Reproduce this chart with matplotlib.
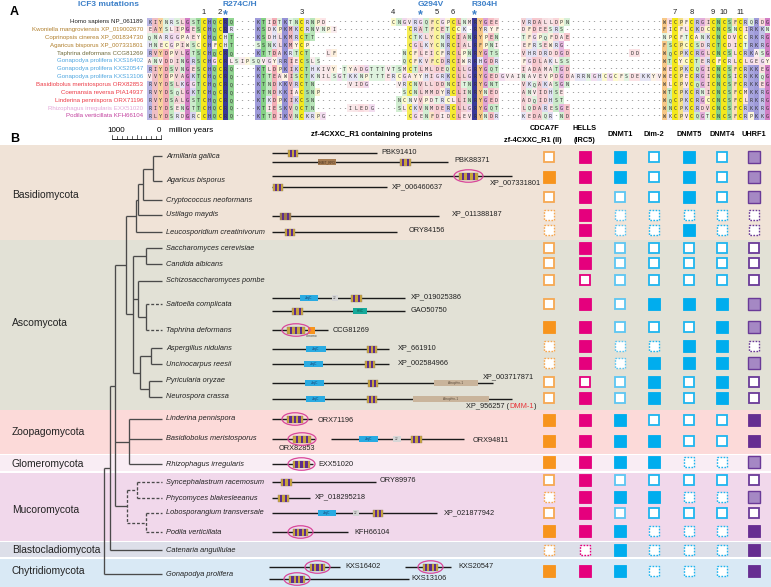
import matplotlib

matplotlib.use("Agg")
import matplotlib.pyplot as plt  # noqa: E402
from collections import Counter  # noqa: E402
from matplotlib.colors import to_rgb  # noqa: E402
from matplotlib.patches import Ellipse, Rectangle  # noqa: E402

plt.rcParams["font.family"] = ["Liberation Sans", "DejaVu Sans"]

W, H = 771, 587
N_COLS = 115

# ---------------- panel A data ----------------
ALN_LABELS = [
    "Homo sapiens NP_061189",
    "Kwoniella mangroviensis XP_019002670",
    "Coprinopsis cinerea XP_001834730",
    "Agaricus bisporus XP_007331801",
    "Taphrina deformans CCG81269",
    "Gonapodya prolifera KXS16402",
    "Gonapodya prolifera KXS20547",
    "Gonapodya prolifera KXS13106",
    "Basidiobolus meristosporus ORX82853",
    "Coemansia reversa PIA14937",
    "Linderina pennispora ORX71196",
    "Rhizophagus irregularis EXX51020",
    "Podila verticillata KFH66104",
]
ALN_LABEL_COLORS = [
    "#222222", "#b07f2c", "#b07f2c", "#b07f2c", "#6f6b3c",
    "#4ea6e0", "#4ea6e0", "#4ea6e0", "#ec3a45", "#ec3a45",
    "#ec3a45", "#e3a6d8", "#c2409e",
]
ALN_SEQS = [
    "KIYNRSLGSTCHQCRQ" + "----" + "KTIDTKTNCRNPD" + "-" * 12 + "CNGVRGQFCGPCLNMRYGEE"
    + "----" + "VRDALLDPN" + "-" * 17 + "WECPFCRGICNCSFCRQRDG",
    "EAYSLIPGESCHQCRR" + "----" + "KSDKPKMKCRNVNPI" + "-" * 13 + "CRATFCETCCK-RYRYF"
    + "----" + "DFDEESRS" + "-" * 18 + "FICFLCKDCCNCSNCIRKKN",
    "QNARGGPAEYCHQCHT" + "----" + "KSDHLKMRCTT" + "-" * 17 + "CTKLYCNRCIANRYPEN"
    + "----" + "TFGPQFDAE" + "-" * 17 + "NPCFTCANKCNCDVCCRKRG",
    "HNECGPIWSCCHFCHT" + "----" + "SSNKLKMYCP" + "-" * 18 + "CGLKYCNRCIALRFPNI"
    + "----" + "EFRSEWRG" + "-" * 18 + "FSCPCCSDRCTCDICTRKRG",
    "RVYDPVLGTSCHQCRQ" + "----" + "KTTDAKRTCT" + "---" + "LF" + "-" * 12
    + "NCFLEICFRCLPNRYGTS" + "----" + "VHRDRDDGD" + "-" * 11 + "DD" + "----"
    + "WQCPKCRGLCNCSLCRKASG",
    "ANVDDINGRSCHGCRL" + "SIPS" + "QVGYRRIECSLS" + "-" * 15 + "QCFKVFCDRCIWRRHGDR"
    + "----" + "FGDLAKLSS" + "-" * 17 + "WTCYCCTERCFCRLCLGEGY",
    "RIYDSVNGESCHQCRQ" + "----" + "KTLDPKIKCTHKIVY-TYADGTT" + "TVTSMCTLMLDEQCLLGRYGQT"
    + "----" + "IADAMATGD" + "-" * 17 + "WECPKCQGICNCSFCRKKEG",
    "VVYDPVAGKTCHQCRQ" + "----" + "KTTEAWISCTKNILSGTKKNPTT" + "TERCGAYYHIGRKCLLGR"
    + "YGEDGVAINAVEVPDGDARRNGHCGCFSDEKKYV" + "WECPECRGICNCSICRKKQG",
    "RVYDSLKGGTCHQCRQ" + "----" + "KTNDKKVRCTN" + "-" * 6 + "VIDG" + "-" * 5
    + "VRCNVLLDDNCITNRYGNT" + "----" + "VKQAKASGN" + "-" * 17 + "WLCPVCQGICNCSFCRKKEG",
    "RVYDSQLGKTCHQCRQ" + "----" + "KTNDKKIACSNP" + "-" * 15 + "SCNLMMDYRCLINRYNED"
    + "----" + "ANVIDHSE" + "-" * 18 + "WTCPKCRNICNCSFCMKKRG",
    "RVYDSALGSTCHQCRQ" + "----" + "KTKDPKIKCSN" + "-" * 15 + "NCNVVPDTRCLLINRYGED"
    + "----" + "ADQIDHST" + "-" * 18 + "WQCPKCRGCCNCSFCLRKRG",
    "RIYDSENGTTCHQCRQ" + "----" + "KTIESKVQCTN" + "-" * 6 + "ILEDG" + "-" * 4
    + "SLCKVNMDERCLLGRYGQT" + "----" + "LQDARESGE" + "-" * 17 + "WNCPKCRDVCNCSFCRKKRG",
    "RLYDSRDGRCCHQCRQ" + "----" + "KTTDIKVNCKRPG" + "-" * 15 + "CGENFDIDCLEVRYNDR"
    + "----" + "KEDAQR-ND" + "-" * 17 + "WKCPVCQGTCNCSFCRPKKG",
]
SITE_COLS = [10, 13, 28, 45, 53, 56, 97, 100, 104, 106, 109]
SITE_NAMES = ["1", "2", "3", "4", "5", "6", "7", "8", "9", "10", "11"]
MUT_COLS = [14, 50, 60]
MUT_NAMES = ["R274C/H", "G294V", "R304H"]

# ---------------- panel B data ----------------
SPECIES = [
    "Armillaria gallica", "Agaricus bisporus", "Cryptococcus neoformans",
    "Ustilago maydis", "Leucosporidium creatinivorum",
    "Saccharomyces cerevisiae", "Candida albicans", "Schizosaccharomyces pombe",
    "Saitoella complicata", "Taphrina deformans", "Aspergillus nidulans",
    "Uncinocarpus reesii", "Pyricularia oryzae", "Neurospora crassa",
    "Linderina pennispora", "Basidiobolus meristosporus", "Rhizophagus irregularis",
    "Syncephalastrum racemosum", "Phycomyces blakesleeanus",
    "Lobosporangium transversale", "Podila verticillata", "Catenaria anguillulae",
    "Gonapodya prolifera",
]
SPECIES_Y = [156, 181, 200, 215, 232, 248, 264, 281, 304, 330, 348, 364, 381,
             397, 419, 439, 464, 482, 498, 513, 532, 550, 574]
SQUARE_Y = [157, 177, 197, 215, 230, 248, 263, 280, 304, 327, 346, 363, 382,
            398, 420, 441, 462, 480, 497, 513, 531, 550, 571]

GENES = ["CDCA7F", "HELLS", "DNMT1", "Dim-2", "DNMT5", "DNMT4", "UHRF1"]
# F = present, L = present (pale), O = absent, D = absent (uncertain)
STATUS = [
    "OFFOFOL", "FFFOFOL", "OFOOFOL", "DFDDDDD", "DFDDFDD",
    "OFOOOOO", "OFOOOOO", "OOOOOOO", "OFOFFFL", "FFOOOFL",
    "DFDDFFD", "DFDFFFL", "OOOFOFO", "OFOFOFO", "FFFOOOF",
    "FFFFOOF", "FFFFDDL", "OFOOOOO", "DFFFDDL", "OFOOOOO",
    "FFFDDDF", "DDFDDDF", "FFFDDDF",
]

CLADES = ["Basidiomycota", "Ascomycota", "Zoopagomycota", "Glomeromycota",
          "Mucoromycota", "Blastocladiomycota", "Chytridiomycota"]
CLADE_SPAN = [(145, 240), (240, 409.5), (410, 453.5), (455, 471), (472.5, 540.5),
              (542, 557), (558.5, 587)]
CLADE_COLORS = ["#f0e3d7", "#e2e1d6", "#fcdad9", "#f9edf4", "#f1d8eb",
                "#dddfe9", "#d9e9f5"]

# proteins: accession, y, line start/end, domains, circled zf, label spot
PROTEINS = [
    ("PBK91410", 153, 272, 377, [("zf", 288, 298)], False, (381, 152, "left")),
    ("PBK88371", 162, 272, 448, [("dnmt", 318, 336), ("zf", 400, 411)], False, (454, 161, "left")),
    ("XP_007331801", 176, 272, 512, [("zf", 459, 478)], True, (490, 183, "left")),
    ("XP_006460637", 187, 272, 387, [("zf", 273, 283)], False, (392, 187, "left")),
    ("XP_011388187", 216, 272, 439, [("zfb", 280, 291)], False, (452, 214, "left")),
    ("ORY84156", 232, 272, 397, [("zf", 285, 295)], False, (409, 230, "left")),
    ("XP_019025386", 298, 272, 405, [("jmjc", 300, 318), ("g22", 332, 338), ("zf", 351, 362)], False, (411, 297, "left")),
    ("GAO50750", 311, 272, 405, [("zf", 292, 303), ("hnc", 353, 367)], False, (411, 311, "left")),
    ("CCG81269", 330, 272, 328, [("zf", 287, 305), ("chromo", 308, 315)], True, (333, 330, "left")),
    ("XP_661910", 349, 272, 389, [("jmjc", 306, 326), ("zf", 367, 377)], False, (398, 348, "left")),
    ("XP_002584966", 364, 272, 389, [("jmjc", 304, 323), ("zf", 365, 375)], False, (398, 363, "left")),
    ("XP_003717871", 383, 272, 493, [("jmjc", 305, 324), ("zf", 368, 378), ("atro", 434, 478)], False, (483, 377, "left")),
    ("XP_956257", 399, 272, 512, [("jmjc", 306, 325), ("zf", 367, 377), ("atro", 413, 489)], False, (466, 407, "left")),
    ("ORX71196", 419, 272, 312, [("zf", 287, 303)], True, (318, 420, "left")),
    ("ORX82853", 439, 272, 315, [("zf", 293, 311)], True, (297, 449, "center")),
    ("ORX94811", 439, 331, 464, [("jmjc", 359, 378), ("g22", 393, 401), ("zf", 411, 422)], False, (473, 440, "left")),
    ("EXX51020", 464, 272, 313, [("zf", 293, 310)], True, (318, 464, "left")),
    ("ORY89976", 482, 272, 376, [("zf", 281, 292)], False, (380, 481, "left")),
    ("XP_018295218", 498, 272, 310, [("zf", 278, 289)], False, (315, 497, "left")),
    ("XP_021877942", 513, 272, 437, [("jmjc", 318, 336), ("g22", 353, 359), ("zf", 373, 383)], False, (444, 513, "left")),
    ("KFH66104", 532, 272, 348, [("zf", 293, 308)], True, (354, 532, "left")),
    ("KXS16402", 567, 269, 340, [("zf", 310, 325)], True, (345, 567, "left")),
    ("KXS20547", 567, 405, 451, [("zf", 423, 438)], True, (458, 567, "left")),
    ("KXS13106", 579, 269, 409, [("zf", 289, 305)], True, (411, 579, "left")),
]


def node(x, *kids, dashed=False):
    return {"x": x, "kids": list(kids), "dashed": dashed}


TREE = node(
    104,
    node(
        110,
        node(
            115,
            node(
                126,
                node(136,
                     node(138,
                          node(143, node(153, "Armillaria gallica", "Agaricus bisporus"),
                               "Cryptococcus neoformans"),
                          "Ustilago maydis"),
                     "Leucosporidium creatinivorum"),
                node(133,
                     node(146, "Saccharomyces cerevisiae", "Candida albicans"),
                     node(138, "Schizosaccharomyces pombe",
                          node(146, "Saitoella complicata", "Taphrina deformans")),
                     node(140, node(151, "Aspergillus nidulans", "Uncinocarpus reesii"),
                          node(149, "Pyricularia oryzae", "Neurospora crassa"))),
            ),
            node(129, "Linderina pennispora", "Basidiobolus meristosporus",
                 "Rhizophagus irregularis"),
            node(127,
                 node(137, "Syncephalastrum racemosum", "Phycomyces blakesleeanus", dashed=True),
                 node(146, "Lobosporangium transversale", "Podila verticillata", dashed=True),
                 dashed=True),
        ),
        "Catenaria anguillulae",
    ),
    "Gonapodya prolifera",
)
DASHED_TIPS = {"Saitoella complicata", "Taphrina deformans"}

# ---------------- styling ----------------
RES_GROUP = {}
for letters, grp in [("C", "C"), ("G", "G"), ("RK", "RK"), ("H", "H"), ("QNST", "pol"),
                     ("DE", "neg"), ("P", "P"), ("FWY", "aro"), ("AILMV", "hyd")]:
    for ch in letters:
        RES_GROUP[ch] = grp
GROUP_COLOR = {"C": "#f4e81c", "G": "#c862b8", "RK": "#8a86d2", "H": "#8384d3",
               "pol": "#79cc79", "neg": "#ef8592", "P": "#f1d65e", "aro": "#f6c27c",
               "hyd": "#eaa7b0"}
GENE_COLOR = ["#f7941d", "#e5007d", "#00adee", "#00adee", "#00adee", "#00adee", "#662d91"]
GENE_EDGE = ["#f6a852", "#e5007d", "#5cc6f2", "#1fb5ef", "#1fb5ef", "#1fb5ef", "#6a3a98"]
UHRF1_PALE = "#a588c4"
GOLD = "#c9a43a"
PURPLE = "#5c2d8c"


def tint(color, t):
    r, g, b = to_rgb(color)
    return (1 - (1 - r) * t, 1 - (1 - g) * t, 1 - (1 - b) * t)


fig = plt.figure(figsize=(W / 100, H / 100), dpi=100)
ax = fig.add_axes([0, 0, 1, 1])
ax.set_xlim(0, W)
ax.set_ylim(H, 0)
ax.axis("off")

# ---------------- panel A ----------------
ax.text(10, 12, "A", fontsize=9, fontweight="bold", ha="left", va="center")
ax.text(108, 4.5, "ICF3 mutations", fontsize=6, fontweight="bold", color="#3b7fc8",
        ha="center", va="center")

aln_x0, aln_x1 = 147, 770
cw = (aln_x1 - aln_x0) / N_COLS
row0, rh = 21.7, 7.85
seqs = [s[:N_COLS].ljust(N_COLS, "-") for s in ALN_SEQS]
n_rows = len(seqs)

for j in range(N_COLS):
    col = [s[j] for s in seqs]
    groups = Counter(RES_GROUP[c] for c in col if c != "-")
    for i, ch in enumerate(col):
        y = row0 + i * rh
        xc = aln_x0 + (j + 0.5) * cw
        if ch != "-":
            grp = RES_GROUP[ch]
            f = groups[grp] / n_rows
            if ch == "R" and col.count("R") / n_rows >= 0.75:
                fc = "#3a3897"
            else:
                fc = tint(GROUP_COLOR[grp], 0.2 + 0.8 * f ** 1.5)
            ax.add_patch(Rectangle((aln_x0 + j * cw, y - rh / 2), cw, rh, fc=fc, lw=0, zorder=1))
        ax.text(xc, y + 0.3, ch, fontsize=3.6, family="DejaVu Sans Mono", color="#333333",
                ha="center", va="center", zorder=2)

for i, (lab, c) in enumerate(zip(ALN_LABELS, ALN_LABEL_COLORS)):
    ax.text(143, row0 + i * rh, lab, fontsize=4.4, color=c, ha="right", va="center")

for j, name in zip(SITE_COLS, SITE_NAMES):
    ax.text(aln_x0 + (j + 0.5) * cw, 12.5, name, fontsize=5.5, color="#222222",
            ha="center", va="center")
for j, name in zip(MUT_COLS, MUT_NAMES):
    xc = aln_x0 + (j + 0.5) * cw
    ax.text(xc, 15.5, "*", fontsize=9, fontweight="bold", color="#3b7fc8",
            ha="center", va="center")
    ax.text(xc - 3, 4.5, name, fontsize=6, fontweight="bold", color="#3b7fc8",
            ha="left", va="center")

# ---------------- panel B ----------------
ax.text(10, 139, "B", fontsize=9, fontweight="bold", ha="left", va="center")

# scale bar
sb0, sb1 = 112, 161
ax.plot([sb0, sb1], [139, 139], color="#222222", lw=0.7)
for k in range(11):
    xt = sb0 + k * (sb1 - sb0) / 10
    top = 134.5 if k in (0, 5, 10) else 136
    ax.plot([xt, xt], [top, 139], color="#222222", lw=0.5)
ax.text(116, 130, "1000", fontsize=5.8, ha="center", va="center")
ax.text(159, 130, "0", fontsize=5.8, ha="center", va="center")
ax.text(169, 130, "million years", fontsize=5.8, ha="left", va="center")

for name, (y0, y1), c in zip(CLADES, CLADE_SPAN, CLADE_COLORS):
    ax.add_patch(Rectangle((0, y0), W, y1 - y0, fc=c, lw=0, zorder=0))
CLADE_LABEL_Y = [195, 323, 432, 464, 510, 550, 571]
for name, y in zip(CLADES, CLADE_LABEL_Y):
    ax.text(12, y, name, fontsize=7.4, color="#222222", ha="left", va="center")

# tree
TIP_X = 162
sp_y = dict(zip(SPECIES, SPECIES_Y))
tree_kw = dict(color="#4a4a4a", lw=0.95, solid_capstyle="butt", zorder=2)
dash = (0, (2.2, 1.4))


def draw_node(nd):
    if isinstance(nd, str):
        return sp_y[nd]
    ys = [draw_node(k) for k in nd["kids"]]
    for k, y in zip(nd["kids"], ys):
        x_end = TIP_X if isinstance(k, str) else k["x"]
        dashed = nd["dashed"] or (isinstance(k, str) and k in DASHED_TIPS)
        ax.plot([nd["x"], x_end], [y, y], ls=dash if dashed else "-", **tree_kw)
    ax.plot([nd["x"], nd["x"]], [min(ys), max(ys)], ls=dash if nd["dashed"] else "-", **tree_kw)
    return (min(ys) + max(ys)) / 2


draw_node(TREE)
for name, y in zip(SPECIES, SPECIES_Y):
    ax.text(166, y, name, fontsize=5.3, style="italic", color="#222222", ha="left", va="center")


# proteins
def draw_zf(x0, x1, y, base=GOLD):
    h = 7
    ax.add_patch(Rectangle((x0, y - h / 2), x1 - x0, h, fc=base, ec="#9a8a6a", lw=0.3, zorder=4))
    n = 3 if x1 - x0 > 13 else 2
    sw = (x1 - x0) / (2 * n + 1)
    for k in range(n):
        ax.add_patch(Rectangle((x0 + (2 * k + 1) * sw, y - h / 2), sw, h, fc=PURPLE, lw=0, zorder=5))


def draw_box(x0, x1, y, fc, text="", h=6, tc="#1a3a6a"):
    ax.add_patch(Rectangle((x0, y - h / 2), x1 - x0, h, fc=fc, ec="none", zorder=4))
    if text:
        ax.text((x0 + x1) / 2, y, text, fontsize=2.3, color=tc, ha="center", va="center", zorder=5)


renderer = fig.canvas.get_renderer()
for acc, y, x0, x1, doms, circled, (lx, ly, lha) in PROTEINS:
    ax.plot([x0, x1], [y, y], color="#1a1a1a", lw=1.0, zorder=3, solid_capstyle="butt")
    for kind, d0, d1 in doms:
        if kind == "zf":
            draw_zf(d0, d1, y)
            if circled:
                ax.add_patch(Ellipse(((d0 + d1) / 2, y), d1 - d0 + 10, 12.5, fc="none",
                                     ec="#d8479a", lw=0.9, zorder=6))
        elif kind == "zfb":
            draw_zf(d0, d1, y, base="#a07a4a")
        elif kind == "jmjc":
            draw_box(d0, d1, y, "#29abe2", "JmjC")
        elif kind == "g22":
            draw_box(d0, d1, y, "#d6d6d6", "22", tc="#555555")
        elif kind == "hnc":
            draw_box(d0, d1, y, "#15a99a", "HNC", tc="#0b4d46")
        elif kind == "dnmt":
            draw_box(d0, d1, y, "#a67c52", "DNMT_RFD", tc="#4a3320")
        elif kind == "atro":
            draw_box(d0, d1, y, "#c9b49b", "Atrophin-1", tc="#5a4a3a")
        elif kind == "chromo":
            ax.add_patch(Rectangle((d0, y - 3.5), d1 - d0, 7, fc="#f7941d", lw=0, zorder=4))
            ax.text((d0 + d1) / 2, y + 6, "Chromo", fontsize=2.3, color="#444444",
                    ha="center", va="center")
    t = ax.text(lx, ly, acc + (" (" if acc == "XP_956257" else ""), fontsize=5.3,
                color="#222222", ha=lha, va="center")
    if acc == "XP_956257":
        bb = t.get_window_extent(renderer)
        inv = ax.transData.inverted()
        xe = inv.transform((bb.x1, bb.y0))[0]
        t2 = ax.text(xe, ly, "DMM-1", fontsize=5.3, color="#e8383d", ha="left", va="center")
        bb2 = t2.get_window_extent(renderer)
        xe2 = inv.transform((bb2.x1, bb2.y0))[0]
        ax.text(xe2, ly, ")", fontsize=5.3, color="#222222", ha="left", va="center")

# headers
ax.text(372, 135, "zf-4CXXC_R1 containing proteins", fontsize=5.5, fontweight="bold",
        ha="center", va="center")
ax.text(545, 129, "CDCA7F", fontsize=5.3, fontweight="bold", ha="center", va="center")
ax.text(533, 141, "zf-4CXXC_R1 (II)", fontsize=5.3, fontweight="bold", ha="center", va="center")
ax.text(585, 129, "HELLS", fontsize=5.3, fontweight="bold", ha="center", va="center")
ax.text(585, 141, "(IRC5)", fontsize=5.3, fontweight="bold", ha="center", va="center")
COL_X = [549, 585, 620, 654, 689, 722, 754]
for gx, g in zip(COL_X[2:], GENES[2:]):
    ax.text(gx, 135, g, fontsize=5.3, fontweight="bold", ha="center", va="center")

# presence / absence squares
sq = 12
for row, y in zip(STATUS, SQUARE_Y):
    for k, (st, gx) in enumerate(zip(row, COL_X)):
        x0, y0 = gx - sq / 2, y - sq / 2
        if st == "F":
            ax.add_patch(Rectangle((x0, y0), sq, sq, fc=GENE_COLOR[k], ec=GENE_COLOR[k],
                                   lw=0.6, zorder=3))
        elif st == "L":
            ax.add_patch(Rectangle((x0, y0), sq, sq, fc=UHRF1_PALE, ec=GENE_EDGE[k],
                                   lw=1.0, zorder=3))
        elif st == "O":
            ax.add_patch(Rectangle((x0 + 0.6, y0 + 0.6), sq - 1.2, sq - 1.2, fc="white",
                                   ec=GENE_EDGE[k], lw=1.3, zorder=3))
        else:
            ax.add_patch(Rectangle((x0 + 0.6, y0 + 0.6), sq - 1.2, sq - 1.2, fc="white",
                                   ec=GENE_EDGE[k], lw=1.0, ls=(0, (1.2, 1.0)), zorder=3))

fig.savefig("out.png", dpi=100)
